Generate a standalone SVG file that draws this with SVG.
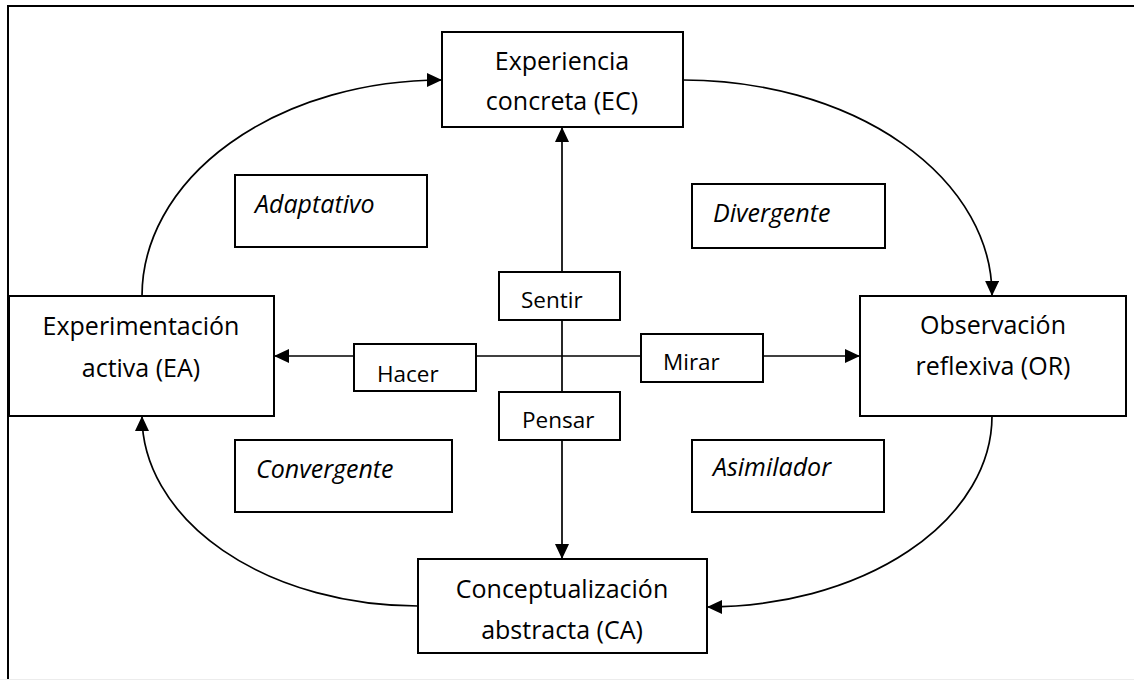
<svg xmlns="http://www.w3.org/2000/svg" width="1134" height="680" viewBox="0 0 1134 680">
<style>
.box{fill:#fff;stroke:#000;stroke-width:2}
.ln{fill:none;stroke:#000;stroke-width:1.7}
.t{font-family:"Open Sans","Liberation Sans",sans-serif;font-size:25px;fill:#000}
.m{text-anchor:middle}
.i{font-style:italic}
.s{font-size:22.5px}
</style>
<defs>
<marker id="ah" viewBox="0 0 15 14" refX="15" refY="7" markerWidth="15" markerHeight="14" markerUnits="userSpaceOnUse" orient="auto">
<path d="M0,0 L15,7 L0,14 z" fill="#000"/>
</marker>
</defs>
<rect width="1134" height="680" fill="#fff"/>
<path d="M8,680 V6 H1134" fill="none" stroke="#000" stroke-width="2"/>
<line x1="0" y1="679.5" x2="1134" y2="679.5" stroke="#ececec" stroke-width="1"/>
<g id="connectors">
<path class="ln" d="M142,296 A300,216 0 0 1 442,80" marker-end="url(#ah)"/>
<path class="ln" d="M683,80 A309,215 0 0 1 992,296" marker-end="url(#ah)"/>
<path class="ln" d="M992,416 A285,191 0 0 1 707,607" marker-end="url(#ah)"/>
<path class="ln" d="M418,606 A276,190 0 0 1 142,416" marker-end="url(#ah)"/>
<line class="ln" x1="562" y1="272" x2="562" y2="127" marker-end="url(#ah)"/>
<line class="ln" x1="562" y1="320" x2="562" y2="392"/>
<line class="ln" x1="562" y1="440" x2="562" y2="559" marker-end="url(#ah)"/>
<line class="ln" x1="354" y1="356" x2="274" y2="356" marker-end="url(#ah)"/>
<line class="ln" x1="476" y1="356" x2="641" y2="356"/>
<line class="ln" x1="763" y1="356" x2="860" y2="356" marker-end="url(#ah)"/>
</g>
<g id="ec">
<rect class="box" x="442" y="32" width="241" height="95"/>
<text class="t m" x="562" y="70">Experiencia</text>
<text class="t m" x="562" y="110">concreta (EC)</text>
</g>
<g id="ea">
<rect class="box" x="9" y="296" width="265" height="120"/>
<text class="t m" x="141" y="335">Experimentación</text>
<text class="t m" x="141" y="377">activa (EA)</text>
</g>
<g id="or">
<rect class="box" x="860" y="296" width="266" height="120"/>
<text class="t m" x="993" y="334">Observación</text>
<text class="t m" x="993" y="375">reflexiva (OR)</text>
</g>
<g id="ca">
<rect class="box" x="418" y="559" width="289" height="94"/>
<text class="t m" x="562" y="598">Conceptualización</text>
<text class="t m" x="562" y="639">abstracta (CA)</text>
</g>
<g id="adaptativo">
<rect class="box" x="235" y="175" width="192" height="72"/>
<text class="t i" x="255" y="213">Adaptativo</text>
</g>
<g id="divergente">
<rect class="box" x="692" y="184" width="193" height="64"/>
<text class="t i" x="713" y="222">Divergente</text>
</g>
<g id="convergente">
<rect class="box" x="235" y="440" width="217" height="72"/>
<text class="t i" x="256" y="478">Convergente</text>
</g>
<g id="asimilador">
<rect class="box" x="692" y="440" width="192" height="72"/>
<text class="t i" x="713" y="476">Asimilador</text>
</g>
<g id="sentir">
<rect class="box" x="499" y="272" width="121" height="48"/>
<text class="t s" x="521" y="308">Sentir</text>
</g>
<g id="hacer">
<rect class="box" x="354" y="344" width="122" height="47"/>
<text class="t s" x="377" y="382">Hacer</text>
</g>
<g id="mirar">
<rect class="box" x="641" y="334" width="122" height="48"/>
<text class="t s" x="663" y="370">Mirar</text>
</g>
<g id="pensar">
<rect class="box" x="499" y="392" width="121" height="48"/>
<text class="t s" x="522" y="428">Pensar</text>
</g>
</svg>
